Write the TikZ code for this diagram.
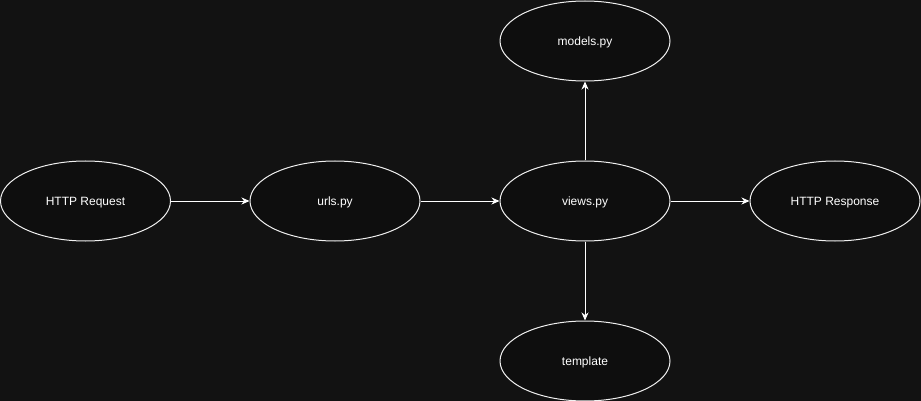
\documentclass[tikz,border=0pt]{standalone}
\usepackage{fontspec}
\setmainfont{Liberation Sans}
\usetikzlibrary{shapes.geometric,arrows.meta}
\definecolor{bg}{HTML}{121212}
\definecolor{nodefill}{HTML}{0E0E0E}
\definecolor{edge}{HTML}{F0F0F0}
\begin{document}
\begin{tikzpicture}[x=1pt,y=-1pt,
  oval/.style={ellipse,draw=edge,fill=nodefill,line width=1pt,minimum width=170pt,minimum height=80pt,inner sep=0pt,text=white,text height=9.4pt,text depth=0pt,font=\fontsize{12}{14}\selectfont},
  conn/.style={draw=white,line width=1pt,-{Stealth[length=8pt,width=7pt,inset=2.5pt]}}]
\fill[bg] (0,0) rectangle (921,401);
\useasboundingbox (0,0) rectangle (921,401);
\node[oval] (req) at (85.5,201) {HTTP Request};
\node[oval] (urls) at (335,201) {urls.py};
\node[oval] (views) at (585,201) {views.py};
\node[oval] (resp) at (835,201) {HTTP Response};
\node[oval] (models) at (585,41) {models.py};
\node[oval] (tmpl) at (585,361) {template};
\draw[conn] (req) -- (urls);
\draw[conn] (urls) -- (views);
\draw[conn] (views) -- (resp);
\draw[conn] (views) -- (models);
\draw[conn] (views) -- (tmpl);
\end{tikzpicture}
\end{document}
